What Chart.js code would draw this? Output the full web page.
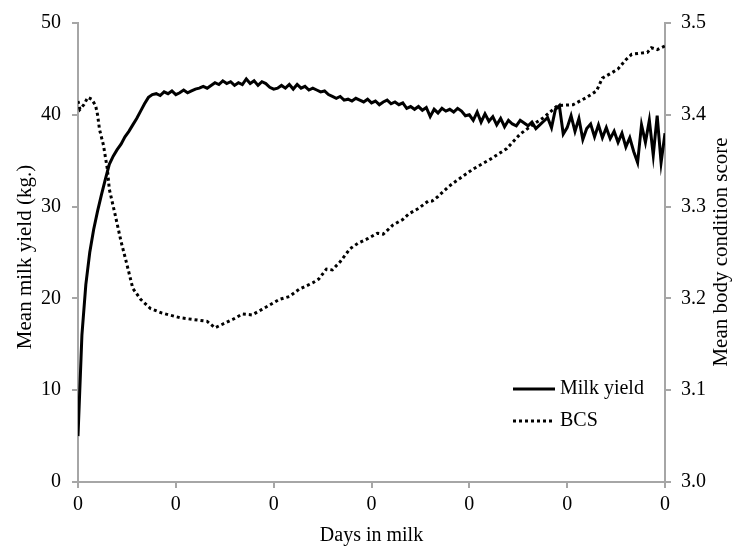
<!DOCTYPE html>
<html>
<head>
<meta charset="utf-8">
<script src="https://cdn.jsdelivr.net/npm/chart.js@4"></script>
<style>
  html, body { margin: 0; padding: 0; background: #fff; }
  #wrap { width: 734px; height: 548px; }
</style>
</head>
<body>
<div id="wrap"><canvas id="grafico" width="734" height="548"></canvas></div>
<script>
// days in milk for the milk yield series (every 2 days)
const milkDays = [0,2,4,6,8,10,12,14,16,18,20,22,24,26,28,30,32,34,36,38,40,42,44,46,48,50,52,54,56,58,60,62,64,66,68,70,72,74,76,78,80,82,84,86,88,90,92,94,96,98,100,102,104,106,108,110,112,114,116,118,120,122,124,126,128,130,132,134,136,138,140,142,144,146,148,150,152,154,156,158,160,162,164,166,168,170,172,174,176,178,180,182,184,186,188,190,192,194,196,198,200,202,204,206,208,210,212,214,216,218,220,222,224,226,228,230,232,234,236,238,240,242,244,246,248,250,252,254,256,258,260,262,264,266,268,270,272,274,276,278,280,282,284,286,288,290,292,294,296,298,300];
const milkYield = [5.0,16.0,21.5,25.0,27.5,29.5,31.3,33.0,34.6,35.5,36.2,36.8,37.6,38.2,38.9,39.6,40.4,41.2,41.9,42.2,42.3,42.1,42.5,42.3,42.6,42.2,42.4,42.7,42.4,42.6,42.8,42.9,43.1,42.9,43.2,43.5,43.3,43.7,43.4,43.6,43.2,43.5,43.3,43.9,43.4,43.7,43.2,43.6,43.4,43.0,42.8,42.9,43.2,42.9,43.3,42.8,43.3,42.9,43.1,42.7,42.9,42.7,42.5,42.6,42.2,42.0,41.8,42.0,41.6,41.7,41.5,41.8,41.6,41.4,41.7,41.3,41.5,41.1,41.4,41.6,41.2,41.4,41.1,41.3,40.7,40.9,40.6,40.9,40.5,40.8,39.8,40.6,40.2,40.7,40.4,40.6,40.3,40.7,40.4,39.9,40.0,39.4,40.3,39.2,40.1,39.3,39.8,38.9,39.6,38.7,39.4,39.0,38.8,39.4,39.1,38.8,39.2,38.5,38.9,39.3,39.7,38.6,40.6,41.0,37.9,38.6,39.9,38.2,39.6,37.3,38.5,39.0,37.6,38.9,37.5,38.6,37.4,38.2,37.0,38.0,36.5,37.5,36.0,34.8,38.9,37.0,39.4,35.6,39.9,34.8,38.0];

// body condition score
const bcsDays = [0,1,3,5,7,9,10,11,13,15,16,19,22,25,28,32,37,43,52,59,66,70,79,84,89,94,103,108,113,120,123,127,130,134,139,143,148,153,156,161,166,169,174,179,181,184,189,192,202,211,219,226,233,238,245,253,260,265,268,273,276,280,283,291,293,296,300];
const bcs = [3.415,3.406,3.411,3.419,3.417,3.410,3.400,3.384,3.367,3.341,3.319,3.291,3.262,3.237,3.211,3.199,3.189,3.184,3.179,3.177,3.175,3.168,3.177,3.183,3.182,3.188,3.199,3.202,3.210,3.217,3.221,3.232,3.231,3.240,3.254,3.260,3.265,3.271,3.270,3.280,3.286,3.292,3.298,3.306,3.306,3.311,3.321,3.326,3.341,3.352,3.363,3.379,3.390,3.397,3.410,3.411,3.419,3.426,3.440,3.446,3.450,3.460,3.466,3.468,3.473,3.471,3.475];

const seriesLabels = ['Milk yield', 'BCS'];
const leftTitle = 'Mean milk yield (kg.)';
const rightTitle = 'Mean body condition score';

const fonte = 'Liberation Serif, "Times New Roman", serif';
const cinza = '#a6a6a6';

const legenda = {
    id: 'legenda',
    afterDraw(chart) {
        const ctx = chart.ctx;
        ctx.save();
        ctx.fillStyle = '#000';
        ctx.strokeStyle = '#000';
        ctx.font = '20px ' + fonte;
        ctx.textBaseline = 'middle';
        ctx.lineWidth = 3;
        ctx.beginPath();
        ctx.moveTo(513, 389);
        ctx.lineTo(555, 389);
        ctx.stroke();
        ctx.fillText(seriesLabels[0], 560, 389);
        ctx.setLineDash([3, 3]);
        ctx.beginPath();
        ctx.moveTo(513, 421);
        ctx.lineTo(555, 421);
        ctx.stroke();
        ctx.setLineDash([]);
        ctx.fillText(seriesLabels[1], 560, 421);
        ctx.restore();

        // axis titles, both reading bottom to top
        ctx.save();
        ctx.fillStyle = '#000';
        ctx.font = '21px ' + fonte;
        ctx.textAlign = 'center';
        ctx.textBaseline = 'middle';
        ctx.translate(25, 257);
        ctx.rotate(-Math.PI / 2);
        ctx.fillText(leftTitle, 0, 0);
        ctx.restore();

        ctx.save();
        ctx.fillStyle = '#000';
        ctx.font = '21px ' + fonte;
        ctx.textAlign = 'center';
        ctx.textBaseline = 'middle';
        ctx.translate(721, 252);
        ctx.rotate(-Math.PI / 2);
        ctx.fillText(rightTitle, 0, 0);
        ctx.restore();
    }
};

const ctx = document.getElementById('grafico').getContext('2d');
const grafico = new Chart(ctx, {
    type: 'line',
    data: {
        datasets: [{
            label: seriesLabels[0],
            data: milkDays.map((d, i) => ({ x: d, y: milkYield[i] })),
            borderColor: '#000',
            borderWidth: 3,
            pointRadius: 0,
            yAxisID: 'y'
        },
        {
            label: seriesLabels[1],
            data: bcsDays.map((d, i) => ({ x: d, y: bcs[i] })),
            borderColor: '#000',
            borderWidth: 3,
            borderDash: [3, 3],
            pointRadius: 0,
            yAxisID: 'y1'
        }]
    },
    plugins: [legenda],
    options: {
        responsive: false,
        animation: false,
        layout: {
            padding: { top: 20, right: 0, bottom: 0, left: 0 }
        },
        plugins: {
            legend: { display: false },
            tooltip: { enabled: false }
        },
        scales: {
            x: {
                type: 'linear',
                min: 0,
                max: 300,
                afterFit: (s) => { s.height = 66; },
                border: { color: cinza, width: 2 },
                grid: { drawOnChartArea: false, color: cinza, tickLength: 6, lineWidth: 2 },
                ticks: {
                    stepSize: 50,
                    color: '#000',
                    padding: 5,
                    font: { family: fonte, size: 20 },
                    callback: () => '0'
                },
                title: {
                    display: true,
                    text: 'Days in milk',
                    color: '#000',
                    padding: { top: 4, bottom: 0 },
                    font: { family: fonte, size: 20 }
                }
            },
            y: {
                position: 'left',
                min: 0,
                max: 50,
                afterFit: (s) => { s.width = 78; },
                border: { color: cinza, width: 2 },
                grid: { drawOnChartArea: false, color: cinza, tickLength: 6, lineWidth: 2 },
                ticks: {
                    stepSize: 10,
                    color: '#000',
                    padding: 11,
                    font: { family: fonte, size: 20 }
                }
            },
            y1: {
                position: 'right',
                min: 3.0,
                max: 3.5,
                afterFit: (s) => { s.width = 69; },
                border: { color: cinza, width: 2 },
                grid: { drawOnChartArea: false, color: cinza, tickLength: 6, lineWidth: 2 },
                ticks: {
                    stepSize: 0.1,
                    color: '#000',
                    padding: 10,
                    font: { family: fonte, size: 20 },
                    callback: (v) => v.toFixed(1)
                }
            }
        }
    }
});
</script>
</body>
</html>
